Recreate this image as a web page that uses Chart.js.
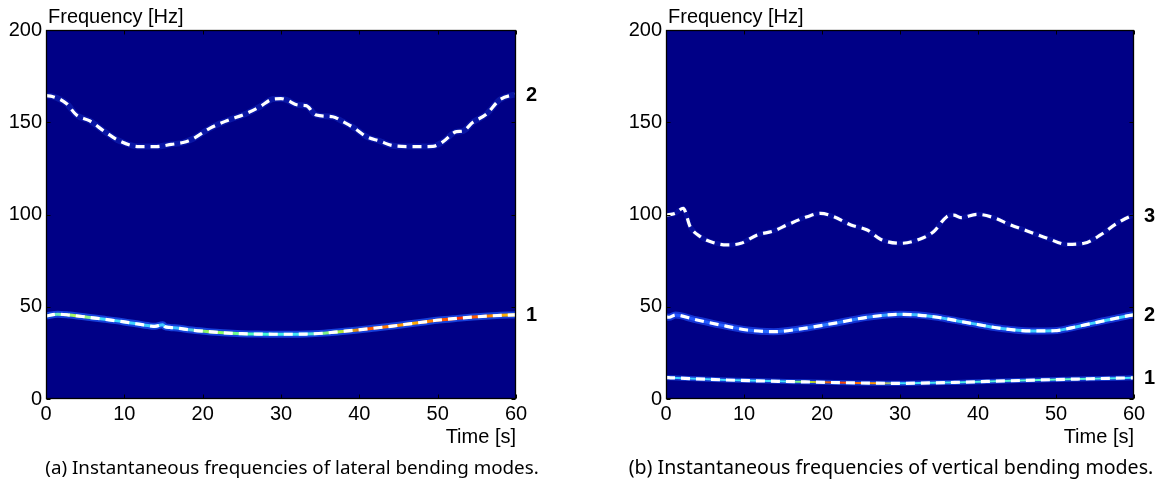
<!DOCTYPE html>
<html>
<head>
<meta charset="utf-8">
<script src="https://cdn.jsdelivr.net/npm/chart.js@4.4.1/dist/chart.umd.min.js"></script>
<style>
html,body{margin:0;padding:0;background:#fff;width:1164px;height:488px;overflow:hidden}
.wrap{position:absolute;top:0;width:582px;height:488px}
.cap{position:absolute;top:455px;height:24px;line-height:24px;font-family:'Noto Sans',sans-serif;font-size:19px;color:#000;white-space:nowrap;text-align:center}
</style>
</head>
<body>
<div class="wrap" style="left:0"><canvas id="cA"></canvas></div>
<div class="wrap" style="left:582px"><canvas id="cB"></canvas></div>
<div class="cap" style="left:0;width:584px;font-size:18.8px">(a) Instantaneous frequencies of lateral bending modes.</div>
<div class="cap" style="left:600px;width:582px;font-size:19.6px">(b) Instantaneous frequencies of vertical bending modes.</div>
<script>
// ---- data ----
const timeTicks = [0, 10, 20, 30, 40, 50, 60];
const freqTicks = [0, 50, 100, 150, 200];

// (a) lateral bending modes
const latMode1T = [0, 1.5, 3, 5.6, 7.5, 9.8, 11.5, 13.0, 13.7, 13.9, 14.9, 15.2, 15.8, 17, 18.3, 20.5, 22.6, 25, 27, 29, 31, 33.2, 35.5, 37.5, 39.5, 41.7, 44, 46, 48, 50.2, 52.5, 54.5, 57, 59, 60];
const latMode1F = [45.0, 46.0, 45.5, 44.2, 43.2, 41.9, 40.8, 39.8, 39.4, 39.4, 40.3, 39.2, 38.8, 38.3, 37.5, 36.6, 35.9, 35.4, 35.2, 35.1, 35.1, 35.2, 35.7, 36.5, 37.3, 38.3, 39.4, 40.5, 41.6, 42.8, 43.7, 44.4, 45.1, 45.5, 45.6];
const latMode2T = [0, 0.8, 2.6, 3.9, 5.6, 7.5, 9.4, 11.9, 14.1, 16, 17.5, 18.7, 20.9, 23.0, 25.6, 27.3, 29.0, 30.0, 30.7, 32.2, 33.2, 34.5, 36.6, 37.9, 39.4, 40.9, 42.6, 44.3, 46.8, 49.4, 50.7, 52.4, 53.2, 54.5, 56.2, 57.9, 59.6, 60];
const latMode2F = [164.4, 164.0, 160.2, 153.9, 150.7, 144.9, 139.8, 136.8, 136.8, 138.0, 139.0, 140.9, 146.7, 150.7, 154.8, 158.4, 162.6, 162.8, 162.1, 159.3, 159.0, 153.9, 153.0, 150.3, 146.7, 142.2, 139.8, 137.3, 136.8, 136.9, 139.5, 144.9, 145.2, 150.0, 154.3, 162.1, 164.8, 165.0];

// (b) vertical bending modes
const vertMode1T = [0, 0.6, 7.8, 16.4, 23.2, 30.1, 37.0, 44.2, 52.7, 60];
const vertMode1F = [11.6, 11.5, 10.3, 9.4, 8.8, 8.5, 9.0, 9.9, 10.8, 11.5];
const vertMode2T = [0, 0.4, 1.2, 3.6, 7.0, 10.4, 13.8, 17.7, 21.5, 25.8, 30.1, 34.3, 38.6, 42.9, 46.7, 49.7, 53.1, 56.6, 59.8, 60];
const vertMode2F = [44.5, 44.3, 45.5, 43.2, 40.1, 37.4, 36.5, 38.3, 41.0, 44.3, 45.9, 44.6, 41.4, 38.3, 36.9, 37.0, 39.6, 42.8, 45.5, 45.6];
const vertMode3T = [0, 1.2, 2.2, 3.1, 4.4, 6.1, 7.8, 9.6, 11.7, 13.8, 15.5, 18.1, 19.8, 21.5, 23.7, 25.8, 27.5, 30.1, 32.6, 34.3, 36.0, 36.9, 37.8, 39.9, 42.0, 44.2, 46.3, 48.9, 51.4, 53.6, 55.7, 57.8, 59.8, 60];
const vertMode3F = [99.7, 100.6, 103.4, 93.4, 88.0, 84.7, 83.5, 84.4, 88.9, 91.1, 94.3, 98.8, 100.6, 98.8, 94.3, 91.6, 86.6, 84.4, 86.7, 90.7, 98.8, 99.7, 98.3, 100.1, 98.3, 94.3, 91.1, 87.1, 83.8, 84.4, 88.9, 95.2, 99.4, 99.5];

const modeLabelsA = ['1', '2'];
const modeLabelsB = ['1', '2', '3'];

// ---- helpers ----
const FONT = "'Liberation Sans', Arial, Helvetica, sans-serif";
const pts = (T, F) => T.map((t, i) => ({x: t, y: F[i]}));

function gradient(stops) {
  return (c) => {
    const chart = c.chart, a = chart.chartArea;
    if (!a) return stops[0][1];
    const g = chart.ctx.createLinearGradient(a.left, 0, a.right, 0);
    stops.forEach(s => g.addColorStop(s[0], s[1]));
    return g;
  };
}

function curve(T, F, halo, ridge, label) {
  const data = pts(T, F);
  const base = {data, pointRadius: 0, cubicInterpolationMode: 'monotone', fill: false, borderCapStyle: 'butt'};
  const list = [];
  if (halo) list.push(Object.assign({}, base, {borderColor: halo[0], borderWidth: halo[1], order: 3}));
  if (ridge) list.push(Object.assign({}, base, {borderColor: ridge[0], borderWidth: ridge[1], order: 2}));
  list.push(Object.assign({}, base, {borderColor: '#ffffff', borderWidth: 3.2, borderDash: [9, 6], order: 1, modeLabel: label}));
  return list;
}

const framePlugin = {
  id: 'frame',
  beforeDatasetsDraw(chart) {
    const {ctx, chartArea: a} = chart;
    ctx.save();
    ctx.fillStyle = '#000086';
    ctx.fillRect(a.left, a.top, a.right - a.left, a.bottom - a.top);
    ctx.restore();
  },
  afterDatasetsDraw(chart) {
    const {ctx, chartArea: a, scales: {x, y}} = chart;
    ctx.save();
    ctx.strokeStyle = '#000';
    ctx.lineWidth = 1;
    const L = Math.round(a.left) + 0.5, R = Math.round(a.right) - 0.5;
    const T = Math.round(a.top) + 0.5, B = Math.round(a.bottom) - 0.5;
    ctx.beginPath();
    x.ticks.forEach(t => {
      const px = Math.round(x.getPixelForValue(t.value)) + 0.5;
      ctx.moveTo(px, B); ctx.lineTo(px, B - 4);
      ctx.moveTo(px, T); ctx.lineTo(px, T + 4);
    });
    y.ticks.forEach(t => {
      const py = Math.round(y.getPixelForValue(t.value)) + 0.5;
      ctx.moveTo(L, py); ctx.lineTo(L + 4, py);
      ctx.moveTo(R, py); ctx.lineTo(R - 4, py);
    });
    ctx.stroke();
    ctx.lineWidth = 1.3;
    ctx.strokeRect(L, T, R - L, B - T);
    // axis title (horizontal, above the plot)
    ctx.fillStyle = '#000';
    ctx.font = '20px ' + FONT;
    ctx.textAlign = 'left';
    ctx.textBaseline = 'alphabetic';
    ctx.fillText('Frequency [Hz]', a.left + 2, a.top - 7);
    // mode labels at the end of each curve
    ctx.font = 'bold 20px ' + FONT;
    ctx.textBaseline = 'middle';
    chart.data.datasets.forEach(ds => {
      if (!ds.modeLabel) return;
      const last = ds.data[ds.data.length - 1];
      ctx.fillText(ds.modeLabel, a.right + 10, y.getPixelForValue(last.y) + 1);
    });
    ctx.restore();
  }
};

function makeChart(id, datasets, yWidth, padRight) {
  return new Chart(document.getElementById(id), {
    type: 'line',
    data: {datasets},
    plugins: [framePlugin],
    options: {
      responsive: true,
      maintainAspectRatio: false,
      animation: false,
      events: [],
      layout: {padding: {left: 0, top: 30, right: padRight, bottom: 39}},
      plugins: {legend: {display: false}, tooltip: {enabled: false}, title: {display: false}},
      scales: {
        x: {
          type: 'linear', min: 0, max: 60,
          afterBuildTicks: s => { s.ticks = timeTicks.map(v => ({value: v})); },
          afterFit: s => { s.height = 50; },
          grid: {display: false, drawTicks: false},
          border: {display: false},
          ticks: {color: '#000', font: {family: FONT, size: 20}, padding: 3, maxRotation: 0, autoSkip: false},
          title: {display: true, text: 'Time [s]', align: 'end', color: '#000', font: {family: FONT, size: 20}, padding: {top: 0, bottom: 0}}
        },
        y: {
          type: 'linear', min: 0, max: 200,
          afterBuildTicks: s => { s.ticks = freqTicks.map(v => ({value: v})); },
          afterFit: s => { s.width = yWidth; },
          grid: {display: false, drawTicks: false},
          border: {display: false},
          ticks: {color: '#000', font: {family: FONT, size: 20}, padding: 4, autoSkip: false}
        }
      }
    }
  });
}

const dsA = [].concat(
  curve(latMode1T, latMode1F, ['rgba(30,90,255,0.7)', 7],
    [gradient([[0, '#40e0ff'], [0.07, '#c0ff40'], [0.12, '#40e0ff'], [0.3, '#40c0ff'], [0.35, '#a0ff40'], [0.45, '#40ffd0'], [0.55, '#40e0ff'], [0.62, '#a0ff40'], [0.68, '#ff5000'], [0.78, '#ffb000'], [0.88, '#ff3000'], [1, '#ffd000']]), 3],
    modeLabelsA[0]),
  curve(latMode2T, latMode2F, ['rgba(30,70,235,0.3)', 6], null, modeLabelsA[1])
);
const dsB = [].concat(
  curve(vertMode1T, vertMode1F, ['rgba(30,90,255,0.6)', 5],
    [gradient([[0, '#40d0ff'], [0.25, '#40e0ff'], [0.3, '#a0ff40'], [0.36, '#ff3000'], [0.45, '#ffa000'], [0.5, '#40e0ff'], [0.85, '#60ffc0'], [1, '#40e0ff']]), 2],
    modeLabelsB[0]),
  curve(vertMode2T, vertMode2F, ['rgba(30,80,255,0.65)', 7],
    [gradient([[0, '#2050ff'], [0.4, '#2a80ff'], [0.55, '#40c8ff'], [1, '#40d8ff']]), 3],
    modeLabelsB[1]),
  curve(vertMode3T, vertMode3F, ['rgba(25,50,215,0.25)', 5], null, modeLabelsB[2])
);

makeChart('cA', dsA, 46, 66);
makeChart('cB', dsB, 84, 30);
</script>
</body>
</html>
